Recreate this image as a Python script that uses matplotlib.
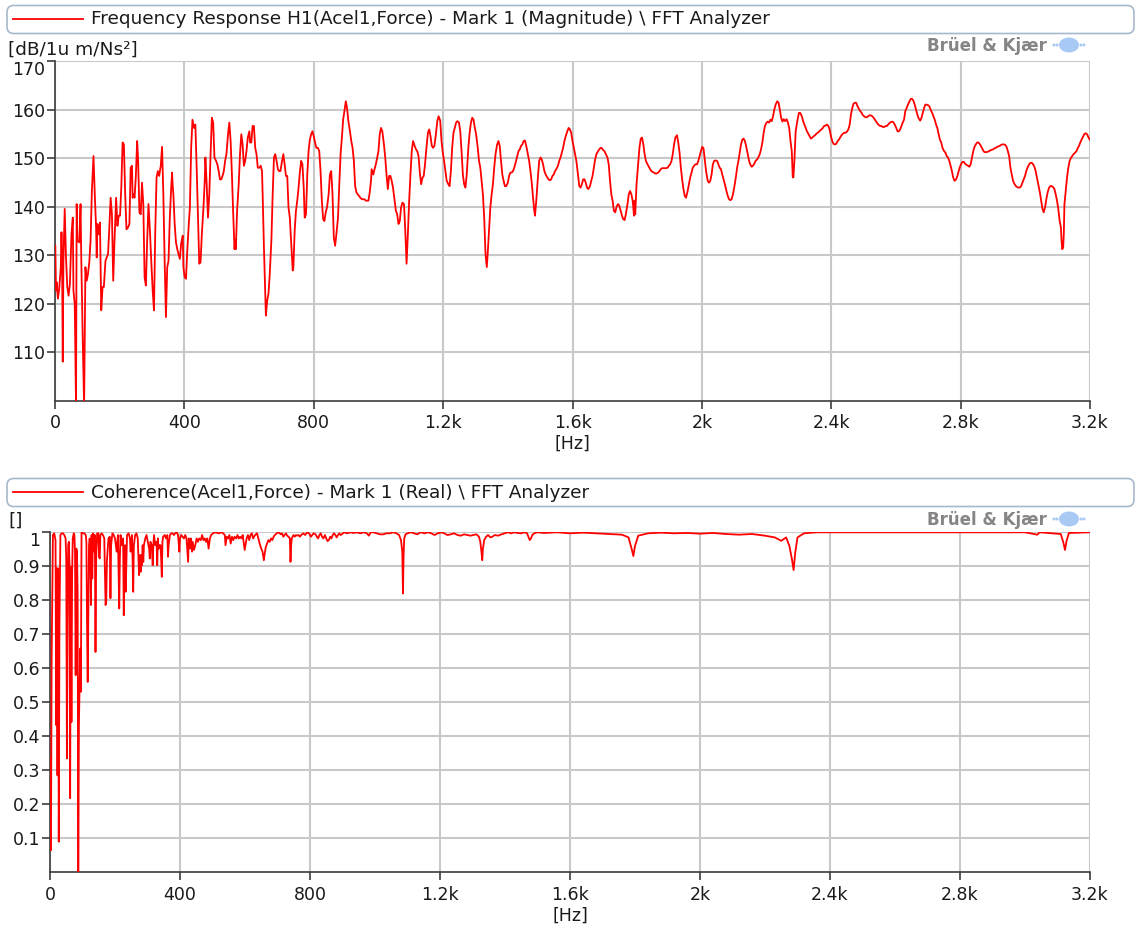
import numpy as np
import matplotlib
matplotlib.use("Agg")
import matplotlib.pyplot as plt
from matplotlib.patches import FancyBboxPatch, Ellipse
from matplotlib.lines import Line2D

# ---------------------------------------------------------------------------
# Frequency response H1(Acel1, Force) magnitude, (Hz, dB re 1u m/Ns^2)
# ---------------------------------------------------------------------------
h1_0_400 = [
    (1, 131.9), (3, 122.7), (5, 124.4), (9, 121.0), (13, 123.0), (18, 127.5), (20, 134.7),
    (22, 128.2), (24, 108.0), (26, 128.8), (30, 139.5), (34, 129.5), (38, 123.4), (42, 121.6),
    (46, 124.0), (51, 134.3), (55, 137.7), (57, 122.7), (61, 119.9), (65, 99.0), (67, 140.5),
    (69, 133.0), (75, 132.6), (79, 140.5), (81, 130.2), (86, 111.7), (90, 99.0), (94, 127.5),
    (98, 124.7), (102, 126.1), (106, 128.5), (110, 133.0), (114, 143.2), (119, 150.4),
    (123, 142.5), (127, 135.7), (129, 129.5), (131, 136.4), (135, 134.3), (139, 136.7),
    (143, 118.6), (147, 123.4), (151, 123.4), (156, 128.8), (160, 129.5), (164, 130.2),
    (168, 135.7), (172, 141.8), (176, 138.4), (180, 124.7), (184, 133.0), (189, 141.8),
    (193, 136.0), (197, 138.1), (201, 138.1), (205, 143.9), (209, 153.2), (213, 152.8),
    (217, 142.5), (221, 135.3), (226, 135.7), (230, 136.4), (234, 148.0), (238, 148.4),
    (240, 141.8), (242, 142.5), (246, 141.8), (250, 146.3), (254, 153.5), (257, 149.4),
    (261, 138.8), (265, 138.4), (269, 144.9), (273, 140.5), (277, 125.4), (281, 123.7),
    (285, 133.0), (289, 140.5), (294, 134.3), (298, 128.2), (302, 122.7), (306, 118.6),
    (310, 135.0), (314, 146.0), (318, 147.3), (322, 146.3), (327, 148.4), (331, 152.3),
    (335, 142.5), (339, 128.8), (343, 117.2), (347, 127.5), (351, 128.8), (355, 137.7),
    (359, 143.6), (362, 147.0), (364, 144.2), (366, 142.5), (370, 136.4), (374, 132.6),
    (378, 131.2), (382, 130.2), (386, 129.2), (390, 132.3), (395, 134.0), (397, 127.5),
]
h1_400_800 = [
    (401, 125.4), (405, 125.1), (409, 130.9), (413, 135.7), (417, 139.8), (421, 152.1),
    (425, 157.9), (430, 156.2), (434, 156.9), (438, 148.0), (442, 137.7), (446, 128.2),
    (450, 128.5), (454, 134.3), (459, 139.8), (463, 145.3), (465, 150.1), (469, 144.6),
    (473, 137.7), (477, 142.5), (481, 150.8), (485, 158.3), (489, 157.3), (493, 150.1),
    (498, 149.4), (502, 148.7), (506, 147.3), (510, 145.6), (514, 145.6), (518, 146.3),
    (522, 147.3), (526, 149.4), (530, 150.8), (535, 154.9), (539, 157.3), (543, 153.5),
    (547, 146.6), (551, 138.4), (555, 131.2), (557, 133.0), (559, 131.2), (563, 139.1),
    (568, 144.6), (572, 150.8), (576, 154.9), (580, 152.8), (584, 148.4), (588, 149.4),
    (592, 151.4), (596, 154.2), (601, 155.5), (603, 153.2), (607, 153.2), (611, 156.6),
    (615, 156.6), (619, 152.1), (623, 150.8), (627, 148.0), (632, 148.0), (636, 148.4),
    (640, 147.3), (642, 142.5), (646, 131.5), (650, 122.0), (652, 117.5), (656, 120.6),
    (660, 122.0), (664, 126.1), (669, 133.0), (673, 142.5), (677, 150.1), (681, 150.8),
    (685, 149.4), (689, 147.7), (693, 147.3), (697, 147.3), (702, 149.4), (706, 150.8),
    (710, 148.7), (714, 146.3), (718, 146.3), (722, 139.8), (726, 137.7), (730, 133.0),
    (735, 126.8), (737, 127.5), (741, 135.0), (745, 139.1), (749, 141.2), (753, 143.9),
    (757, 147.0), (761, 149.4), (765, 148.7), (769, 143.9), (772, 137.7), (776, 138.4),
    (780, 146.6), (784, 151.4), (788, 153.8), (792, 154.9), (796, 155.5),
]
h1_800_1200 = [
    (800, 154.5), (804, 153.2), (808, 152.1), (813, 152.1), (817, 151.4), (821, 147.3),
    (825, 141.2), (829, 137.4), (833, 137.0), (837, 138.8), (841, 139.8), (846, 142.5),
    (850, 146.6), (854, 147.3), (858, 142.5), (862, 133.6), (866, 131.9), (870, 134.3),
    (875, 137.7), (879, 144.6), (883, 150.8), (887, 154.2), (891, 158.0), (895, 159.7),
    (899, 161.7), (903, 160.3), (907, 157.6), (912, 155.5), (916, 153.5), (920, 152.1),
    (924, 149.4), (928, 144.2), (932, 142.9), (936, 142.5), (940, 142.2), (944, 141.8),
    (949, 141.5), (953, 141.5), (957, 141.5), (961, 141.2), (965, 141.2), (969, 141.2),
    (973, 142.9), (977, 145.3), (979, 147.7), (984, 146.6), (988, 147.7), (992, 148.7),
    (996, 150.1), (1000, 151.4), (1004, 154.9), (1008, 156.2), (1012, 155.5), (1017, 152.8),
    (1021, 150.1), (1025, 146.6), (1029, 143.6), (1033, 146.3), (1037, 146.3), (1041, 145.3),
    (1045, 143.9), (1050, 141.2), (1054, 139.1), (1058, 138.4), (1062, 136.4), (1066, 137.0),
    (1070, 139.8), (1074, 140.8), (1079, 140.5), (1083, 135.0), (1087, 128.2), (1091, 134.3),
    (1095, 141.2), (1099, 146.6), (1103, 151.4), (1107, 153.5), (1112, 152.5), (1116, 151.8),
    (1120, 151.4), (1124, 150.4), (1128, 147.0), (1132, 144.6), (1136, 145.9), (1140, 146.3),
    (1144, 148.7), (1149, 152.5), (1153, 155.2), (1157, 155.9), (1161, 154.5), (1165, 152.5),
    (1169, 152.1), (1173, 152.5), (1177, 154.5), (1182, 157.6), (1186, 158.6), (1191, 157.7),
    (1195, 153.5),
]
h1_1200_1600 = [
    (1199, 151.1), (1203, 149.4), (1207, 147.3), (1211, 145.3), (1216, 144.6), (1220, 144.2),
    (1224, 147.3), (1228, 152.1), (1232, 155.2), (1236, 156.2), (1240, 157.3), (1244, 157.6),
    (1249, 157.3), (1253, 155.5), (1257, 151.4), (1261, 146.6), (1265, 144.6), (1269, 143.9),
    (1273, 146.6), (1278, 152.1), (1282, 155.2), (1286, 157.3), (1290, 158.3), (1294, 157.9),
    (1298, 156.2), (1302, 154.9), (1307, 152.1), (1311, 149.4), (1315, 148.0), (1319, 145.3),
    (1323, 142.5), (1327, 137.7), (1331, 130.2), (1335, 127.5), (1338, 130.5), (1342, 135.0),
    (1346, 139.8), (1350, 142.5), (1354, 144.6), (1358, 148.0), (1362, 150.8), (1367, 152.8),
    (1371, 153.5), (1375, 152.5), (1379, 149.4), (1383, 146.6), (1387, 145.3), (1391, 144.2),
    (1395, 144.2), (1400, 144.9), (1404, 146.3), (1408, 147.0), (1412, 147.0), (1416, 147.3),
    (1420, 148.0), (1424, 149.0), (1428, 150.1), (1433, 151.4), (1437, 151.8), (1441, 152.5),
    (1445, 152.8), (1449, 153.5), (1453, 153.6), (1457, 152.5), (1462, 150.8), (1466, 149.4),
    (1470, 147.3), (1474, 144.9), (1478, 141.8), (1482, 139.1), (1484, 138.1), (1488, 141.2),
    (1493, 146.0), (1497, 149.4), (1501, 150.1), (1505, 149.7), (1509, 148.7), (1513, 147.3),
    (1517, 146.6), (1522, 146.0), (1526, 145.6), (1530, 145.4), (1534, 145.6), (1538, 146.3),
    (1542, 146.6), (1546, 147.3), (1550, 147.7), (1555, 148.4), (1559, 149.4), (1563, 150.1),
    (1567, 151.1), (1571, 152.1), (1575, 153.5), (1579, 154.5), (1584, 155.5), (1588, 156.2),
    (1592, 155.9), (1596, 155.2),
]
h1_1600_2000 = [
    (1600, 153.5), (1604, 152.1), (1608, 150.8), (1612, 149.4), (1617, 146.6), (1621, 144.2),
    (1625, 143.9), (1629, 144.6), (1633, 145.6), (1637, 145.6), (1641, 144.9), (1645, 143.9),
    (1649, 143.6), (1654, 144.2), (1658, 145.3), (1662, 146.3), (1666, 148.0), (1670, 149.7),
    (1674, 150.8), (1679, 151.4), (1683, 151.8), (1687, 152.1), (1691, 152.0), (1695, 151.6),
    (1699, 151.4), (1703, 150.8), (1708, 150.1), (1712, 148.7), (1716, 145.3), (1720, 142.5),
    (1724, 141.2), (1728, 139.1), (1732, 138.8), (1737, 140.1), (1741, 140.5), (1745, 140.1),
    (1749, 139.1), (1753, 138.1), (1757, 137.4), (1761, 137.2), (1765, 138.4), (1770, 140.5),
    (1774, 142.5), (1778, 143.2), (1782, 142.5), (1786, 141.2), (1788, 139.8), (1790, 138.1),
    (1792, 141.2), (1794, 138.4), (1798, 144.6), (1803, 148.7), (1807, 152.1), (1811, 154.0),
    (1815, 154.2), (1819, 152.8), (1823, 150.8), (1827, 149.4), (1832, 148.7), (1836, 148.2),
    (1840, 147.7), (1844, 147.3), (1848, 147.1), (1852, 147.0), (1856, 146.8), (1860, 146.8),
    (1865, 147.0), (1869, 147.3), (1873, 147.7), (1877, 147.9), (1881, 147.9), (1885, 147.9),
    (1889, 147.9), (1894, 148.0), (1898, 148.4), (1902, 148.7), (1906, 149.4), (1910, 150.8),
    (1914, 152.8), (1918, 154.2), (1923, 154.7), (1927, 153.2), (1931, 151.1), (1935, 148.0),
    (1939, 145.6), (1943, 143.6), (1947, 142.2), (1951, 141.8), (1956, 143.2), (1960, 144.6),
    (1964, 146.0), (1968, 147.0), (1972, 148.0), (1976, 148.4), (1980, 148.7), (1985, 148.7),
    (1989, 149.4), (1993, 150.4), (1997, 151.4),
]
h1_2000_2400 = [
    (2001, 152.3), (2005, 152.0), (2009, 149.7), (2013, 147.3), (2018, 145.3), (2022, 144.9),
    (2026, 145.3), (2030, 146.6), (2034, 148.7), (2038, 149.4), (2042, 149.5), (2047, 149.4),
    (2051, 148.7), (2055, 148.0), (2059, 147.7), (2063, 146.6), (2067, 145.6), (2071, 144.6),
    (2076, 143.2), (2080, 142.2), (2084, 141.5), (2088, 141.3), (2092, 141.5), (2096, 142.5),
    (2100, 143.9), (2105, 146.0), (2109, 148.0), (2113, 149.4), (2117, 151.1), (2121, 152.8),
    (2125, 153.8), (2129, 154.0), (2133, 153.5), (2138, 152.1), (2142, 150.8), (2146, 149.4),
    (2150, 148.6), (2154, 148.2), (2158, 148.4), (2162, 148.8), (2166, 149.4), (2171, 149.7),
    (2175, 150.2), (2179, 150.8), (2183, 151.8), (2187, 153.2), (2191, 155.2), (2195, 156.6),
    (2200, 157.3), (2204, 157.5), (2208, 157.3), (2212, 157.9), (2216, 157.6), (2220, 158.6),
    (2224, 160.0), (2228, 161.0), (2233, 161.7), (2237, 161.4), (2241, 160.0), (2245, 158.3),
    (2249, 157.5), (2253, 158.0), (2257, 157.6), (2262, 158.0), (2266, 157.3), (2270, 156.2),
    (2274, 153.5), (2278, 151.4), (2281, 146.0), (2283, 146.0), (2286, 149.4), (2290, 155.5),
    (2295, 157.6), (2300, 159.3), (2304, 159.3), (2309, 158.6), (2313, 157.6), (2317, 156.9),
    (2321, 156.2), (2325, 155.5), (2329, 155.0), (2333, 154.5), (2337, 154.0), (2341, 154.2),
    (2346, 154.5), (2350, 154.7), (2354, 155.0), (2358, 155.2), (2362, 155.4), (2366, 155.7),
    (2370, 155.9), (2374, 156.2), (2378, 156.6), (2383, 156.7), (2387, 156.9), (2391, 156.6),
    (2395, 155.9), (2399, 154.5),
]
h1_2400_2800 = [
    (2403, 153.5), (2407, 152.9), (2411, 152.8), (2415, 152.9), (2420, 153.5), (2424, 153.8),
    (2428, 154.3), (2432, 154.7), (2436, 155.0), (2440, 155.2), (2444, 155.2), (2448, 155.4),
    (2453, 155.9), (2457, 156.9), (2461, 159.0), (2465, 160.3), (2469, 161.2), (2473, 161.4),
    (2477, 161.4), (2481, 160.7), (2485, 160.2), (2489, 159.7), (2494, 159.3), (2498, 158.8),
    (2502, 158.6), (2506, 158.4), (2510, 158.4), (2514, 158.6), (2518, 158.8), (2522, 158.8),
    (2527, 158.6), (2531, 158.3), (2535, 157.9), (2539, 157.5), (2543, 157.1), (2547, 156.8),
    (2551, 156.6), (2555, 156.6), (2559, 156.4), (2564, 156.4), (2568, 156.6), (2572, 156.6),
    (2576, 156.9), (2580, 157.2), (2584, 157.4), (2588, 157.5), (2592, 157.4), (2596, 156.9),
    (2601, 156.2), (2605, 155.5), (2609, 155.5), (2613, 155.9), (2617, 156.6), (2621, 157.3),
    (2625, 157.9), (2629, 159.7), (2633, 160.3), (2637, 161.0), (2642, 161.7), (2646, 162.2),
    (2650, 162.2), (2654, 161.8), (2658, 161.0), (2662, 160.0), (2666, 159.0), (2670, 158.2),
    (2675, 157.7), (2679, 158.3), (2683, 159.3), (2687, 160.3), (2691, 161.0), (2695, 161.0),
    (2699, 160.9), (2703, 160.7), (2707, 160.0), (2712, 159.3), (2716, 158.6), (2720, 157.9),
    (2724, 156.9), (2728, 156.2), (2732, 154.9), (2736, 153.8), (2740, 153.2), (2744, 152.1),
    (2749, 151.4), (2753, 151.1), (2757, 150.4), (2761, 150.1), (2765, 149.4), (2769, 148.4),
    (2773, 147.3), (2777, 146.0), (2781, 145.3), (2786, 145.6), (2790, 146.3), (2794, 147.3),
    (2798, 148.2),
]
h1_2800_3200 = [
    (2802, 148.8), (2806, 149.2), (2810, 149.2), (2814, 148.8), (2818, 148.6), (2823, 148.4),
    (2827, 148.2), (2831, 148.7), (2835, 150.1), (2839, 151.4), (2843, 152.3), (2847, 152.8),
    (2851, 153.2), (2855, 153.2), (2860, 152.8), (2864, 152.3), (2868, 151.8), (2872, 151.3),
    (2876, 151.2), (2880, 151.2), (2884, 151.3), (2888, 151.4), (2892, 151.6), (2897, 151.7),
    (2901, 151.8), (2905, 152.0), (2909, 152.1), (2913, 152.3), (2917, 152.4), (2921, 152.5),
    (2925, 152.7), (2929, 152.8), (2934, 152.8), (2938, 152.7), (2942, 152.3), (2946, 151.4),
    (2950, 150.4), (2954, 148.0), (2958, 146.6), (2962, 145.3), (2966, 144.7), (2971, 144.2),
    (2975, 144.0), (2979, 143.9), (2983, 143.9), (2987, 144.2), (2991, 144.9), (2995, 145.6),
    (2999, 146.3), (3003, 147.3), (3008, 148.2), (3012, 148.7), (3016, 149.0), (3020, 149.0),
    (3024, 148.7), (3028, 148.2), (3032, 147.3), (3036, 146.0), (3040, 144.6), (3045, 142.9),
    (3049, 141.2), (3053, 139.5), (3057, 138.8), (3061, 139.8), (3065, 141.5), (3069, 142.9),
    (3073, 143.8), (3077, 144.2), (3082, 144.2), (3086, 144.0), (3090, 143.6), (3094, 142.5),
    (3098, 141.2), (3102, 139.5), (3106, 137.1), (3110, 135.7), (3112, 133.0), (3114, 131.2),
    (3117, 131.5), (3119, 134.3), (3121, 140.5), (3125, 143.2), (3129, 146.0), (3133, 148.0),
    (3137, 149.4), (3141, 150.0), (3145, 150.4), (3149, 150.8), (3154, 151.1), (3158, 151.4),
    (3162, 152.0), (3166, 152.5), (3170, 153.2), (3174, 153.8), (3178, 154.3), (3182, 154.9),
    (3186, 155.1), (3191, 154.9), (3195, 154.3), (3199, 153.8),
]

# ---------------------------------------------------------------------------
# Coherence(Acel1, Force), (Hz, coherence)
# ---------------------------------------------------------------------------
coh_0_200 = [
    (0, 0.335), (3, 0.065), (5, 0.63), (9, 0.992), (13, 0.997), (17, 0.977), (19, 0.433),
    (21, 0.894), (23, 0.285), (25, 0.894), (27, 0.09), (29, 0.727), (32, 0.992), (36, 0.997),
    (40, 0.997), (44, 0.992), (48, 0.982), (50, 0.923), (52, 0.335), (54, 0.727), (56, 0.962),
    (58, 0.972), (60, 0.903), (62, 0.218), (64, 0.899), (66, 0.442), (68, 0.874), (70, 0.982),
    (73, 0.997), (75, 0.992), (77, 0.943), (79, 0.58), (81, 0.952), (83, 0.943), (85, 0.825),
    (87, 0.0), (89, 0.433), (91, 0.55), (93, 0.658), (95, 0.531), (97, 1.0), (102, 0.997),
    (106, 0.997), (110, 0.992), (112, 0.972), (114, 0.727), (116, 0.56), (118, 0.776),
    (120, 0.962), (122, 0.982), (124, 0.962), (126, 0.786), (128, 0.992), (130, 0.864),
    (132, 0.997), (134, 0.992), (136, 0.943), (138, 0.992), (140, 0.648), (142, 0.923),
    (145, 0.997), (149, 0.997), (151, 0.928), (153, 0.923), (155, 0.992), (159, 0.997),
    (163, 0.992), (167, 0.982), (171, 0.786), (173, 0.796), (175, 0.913), (177, 0.943),
    (180, 0.982), (184, 0.987), (186, 0.806), (188, 0.962), (192, 0.997), (196, 0.992),
]
coh_200_600 = [
    (200, 0.982), (205, 0.943), (209, 0.992), (213, 0.776), (215, 0.923), (217, 0.992),
    (221, 0.962), (225, 0.982), (227, 0.756), (229, 0.903), (231, 0.962), (233, 0.825),
    (235, 0.903), (237, 0.992), (242, 0.997), (246, 0.982), (248, 0.943), (252, 0.992),
    (254, 0.923), (256, 0.825), (258, 0.962), (262, 0.992), (266, 0.997), (270, 0.982),
    (272, 0.923), (274, 0.874), (277, 0.933), (279, 0.884), (281, 0.933), (283, 0.903),
    (285, 0.962), (287, 0.913), (289, 0.962), (293, 0.982), (297, 0.992), (301, 0.972),
    (305, 0.952), (307, 0.923), (309, 0.972), (313, 0.962), (316, 0.903), (318, 0.962),
    (320, 0.992), (324, 0.962), (328, 0.972), (330, 0.903), (332, 0.982), (334, 0.952),
    (336, 0.962), (340, 0.962), (342, 0.923), (344, 0.869), (346, 0.972), (348, 0.987),
    (353, 0.992), (357, 0.982), (361, 0.992), (363, 0.928), (365, 0.962), (369, 0.992),
    (373, 0.997), (377, 0.997), (381, 0.992), (385, 0.997), (390, 1.0), (394, 0.992),
    (398, 0.943), (400, 0.982), (404, 0.992), (408, 0.987), (412, 0.982), (416, 0.992),
    (420, 0.982), (425, 0.913), (427, 0.982), (431, 0.952), (433, 0.982), (435, 0.962),
    (437, 0.943), (439, 0.972), (443, 0.948), (447, 0.962), (451, 0.982), (455, 0.972),
    (459, 0.982), (464, 0.977), (468, 0.992), (472, 0.977), (476, 0.982), (480, 0.972),
    (484, 0.982), (488, 0.952), (492, 0.982), (496, 0.992), (501, 0.997), (509, 1.0),
    (519, 0.997), (529, 1.0), (538, 0.992), (540, 0.962), (544, 0.987), (548, 0.982),
    (552, 0.992), (556, 0.967), (560, 0.987), (564, 0.977), (568, 0.987), (573, 0.982),
    (577, 0.992), (581, 0.982), (585, 0.987), (589, 0.982), (593, 0.992),
]
coh_600_1500 = [
    (599, 0.948), (605, 0.982), (609, 0.992), (613, 0.977), (617, 0.992), (621, 0.997),
    (625, 0.982), (631, 0.992), (637, 0.997), (641, 0.982), (645, 0.967), (650, 0.952),
    (654, 0.943), (658, 0.918), (660, 0.933), (664, 0.957), (668, 0.967), (672, 0.977),
    (676, 0.972), (680, 0.982), (684, 0.977), (688, 0.987), (692, 0.992), (698, 0.997),
    (704, 1.0), (710, 0.994), (714, 0.997), (718, 0.987), (722, 0.992), (726, 0.997),
    (730, 0.99), (734, 0.987), (738, 0.982), (740, 0.913), (742, 0.962), (744, 0.982),
    (749, 0.992), (753, 0.987), (757, 0.992), (761, 0.99), (765, 0.992), (769, 0.987),
    (773, 0.992), (779, 0.997), (785, 0.992), (791, 1.0), (797, 0.997), (803, 0.987),
    (807, 0.992), (811, 0.997), (817, 0.994), (821, 0.987), (825, 0.982), (829, 0.992),
    (833, 0.997), (837, 0.987), (841, 0.982), (846, 0.992), (850, 0.982), (854, 0.974),
    (858, 0.977), (862, 0.987), (866, 0.982), (870, 0.992), (874, 0.997), (878, 0.992),
    (882, 0.985), (886, 0.992), (890, 0.997), (894, 0.992), (898, 0.994), (904, 1.0),
    (914, 0.997), (924, 1.0), (934, 0.998), (944, 1.0), (955, 0.997), (965, 1.0),
    (975, 0.997), (981, 0.99), (987, 1.0), (995, 1.0), (1005, 0.997), (1015, 0.994),
    (1025, 0.994), (1035, 0.997), (1045, 0.997), (1056, 1.0), (1066, 0.997), (1074, 0.992),
    (1080, 0.977), (1084, 0.943), (1086, 0.82), (1088, 0.933), (1090, 0.982), (1094, 0.994),
    (1100, 0.997), (1110, 1.0), (1120, 0.997), (1130, 0.994), (1140, 1.0), (1153, 0.997),
    (1163, 1.0), (1173, 0.997), (1183, 0.992), (1193, 0.997), (1203, 1.0), (1213, 0.997),
    (1223, 0.992), (1233, 0.994), (1243, 0.997), (1254, 0.992), (1264, 0.99), (1274, 0.994),
    (1284, 0.992), (1294, 0.99), (1302, 0.992), (1312, 0.994), (1320, 0.987), (1324, 0.972),
    (1328, 0.938), (1330, 0.918), (1332, 0.952), (1336, 0.977), (1342, 0.987), (1348, 0.992),
    (1355, 0.985), (1361, 0.987), (1369, 0.992), (1379, 0.99), (1389, 0.994), (1399, 0.997),
    (1409, 1.0), (1419, 0.997), (1429, 1.0), (1439, 0.998), (1449, 0.997), (1460, 1.0),
    (1468, 0.997), (1472, 0.987), (1476, 0.977), (1480, 0.982), (1484, 0.992), (1490, 0.997),
    (1500, 1.0),
]
coh_1500_3200 = [
    (1520, 0.998), (1560, 1.0), (1600, 0.997), (1640, 0.999), (1680, 0.997), (1720, 0.995),
    (1760, 0.993), (1780, 0.985), (1790, 0.95), (1795, 0.93), (1800, 0.96), (1810, 0.99),
    (1840, 0.997), (1880, 0.999), (1920, 0.997), (1960, 0.998), (2000, 0.996), (2040, 0.998),
    (2080, 0.995), (2120, 0.993), (2160, 0.995), (2200, 0.99), (2230, 0.985), (2250, 0.975),
    (2265, 0.985), (2275, 0.96), (2283, 0.92), (2288, 0.889), (2293, 0.94), (2300, 0.985),
    (2320, 0.997), (2360, 1.0), (2500, 1.0), (2700, 1.0), (2900, 1.0), (3000, 1.0),
    (3038, 0.993), (3045, 1.0), (3110, 0.995), (3118, 0.97), (3123, 0.948), (3128, 0.975),
    (3135, 0.998), (3200, 1.0),
]

x_ticks = [0, 400, 800, 1200, 1600, 2000, 2400, 2800, 3200]
x_tick_labels = ["0", "400", "800", "1.2k", "1.6k", "2k", "2.4k", "2.8k", "3.2k"]
mag_ticks = [110, 120, 130, 140, 150, 160, 170]
mag_tick_labels = ["110", "120", "130", "140", "150", "160", "170"]
coh_ticks = [0.1, 0.2, 0.3, 0.4, 0.5, 0.6, 0.7, 0.8, 0.9, 1.0]
coh_tick_labels = ["0.1", "0.2", "0.3", "0.4", "0.5", "0.6", "0.7", "0.8", "0.9", "1"]

title_mag = "Frequency Response H1(Acel1,Force) - Mark 1 (Magnitude) \\ FFT Analyzer"
title_coh = "Coherence(Acel1,Force) - Mark 1 (Real) \\ FFT Analyzer"
unit_mag = "[dB/1u m/Ns²]"
unit_coh = "[]"
x_unit = "[Hz]"
brand = "Brüel & Kjær"

# ---------------------------------------------------------------------------
W, H = 1135, 930
RED = "#ff0000"
TXT = "#1a1a1a"
FONT = "DejaVu Sans"
FS = 12.5      # tick labels and axis unit
FS_HEAD = 13.3  # header and unit captions

plt.rcParams["font.family"] = [FONT]


def fx(x):
    return x / W


def fy(y):
    return 1 - y / H


def unpack(*segments):
    pts = [p for seg in segments for p in seg]
    return np.array([p[0] for p in pts]), np.array([p[1] for p in pts])


fig = plt.figure(figsize=(W / 100, H / 100), dpi=100)
fig.patch.set_facecolor("white")

ax1 = fig.add_axes([fx(55), fy(400.5), fx(1090) - fx(55), fy(61) - fy(400.5)])
ax2 = fig.add_axes([fx(50), fy(872.3), fx(1090) - fx(50), fy(532.3) - fy(872.3)])


def style_axes(ax, yticks, ylabels, ylim):
    ax.set_xlim(0, 3200)
    ax.set_ylim(*ylim)
    ax.set_xticks(x_ticks)
    ax.set_xticklabels(x_tick_labels)
    ax.set_yticks(yticks)
    ax.set_yticklabels(ylabels)
    ax.grid(True, color="#c8c8c8", lw=1.5)
    ax.set_axisbelow(True)
    for s in ("top", "right"):
        ax.spines[s].set_visible(False)
    for s in ("left", "bottom"):
        ax.spines[s].set_color("#3c3c3c")
        ax.spines[s].set_linewidth(1.2)
    ax.tick_params(length=6, width=1.2, color="#3c3c3c", labelsize=FS, labelcolor=TXT)
    ax.tick_params(axis="y", pad=1)
    ax.tick_params(axis="x", pad=4)
    ax.set_xlabel(x_unit, fontsize=FS, color=TXT, labelpad=2)
    # topmost label sits below its tick so it stays inside the frame
    ax.get_yticklabels()[-1].set_va("top")


f1, m1 = unpack(h1_0_400, h1_400_800, h1_800_1200, h1_1200_1600,
                h1_1600_2000, h1_2000_2400, h1_2400_2800, h1_2800_3200)
f2, c2 = unpack(coh_0_200, coh_200_600, coh_600_1500, coh_1500_3200)

ax1.plot(f1, m1, color=RED, lw=1.3, zorder=3)
ax2.plot(f2, c2, color=RED, lw=1.3, zorder=3)

style_axes(ax1, mag_ticks, mag_tick_labels, (100, 170))
style_axes(ax2, coh_ticks, coh_tick_labels, (0, 1))


def header(y_top, y_bot, text):
    box = FancyBboxPatch((fx(7), fy(y_bot)), fx(1134) - fx(7), fy(y_top) - fy(y_bot),
                         boxstyle="round,pad=0,rounding_size=0.006",
                         transform=fig.transFigure, facecolor="white",
                         edgecolor="#a7b8cc", lw=1.2, mutation_aspect=W / H)
    fig.patches.append(box)
    yc = (y_top + y_bot) / 2
    fig.lines.append(Line2D([fx(13), fx(83)], [fy(yc), fy(yc)], color=RED, lw=1.3,
                            transform=fig.transFigure))
    fig.text(fx(91), fy(yc), text, fontsize=FS_HEAD, color=TXT, va="center", ha="left")


def unit(y, text):
    fig.text(fx(8), fy(y), text, fontsize=FS_HEAD, color=TXT, va="center", ha="left")


def logo(yc):
    fig.text(fx(1047), fy(yc), brand, fontsize=12, fontweight="bold",
             color="#858585", va="center", ha="right")
    fig.patches.append(Ellipse((fx(1069), fy(yc - 1)), 20 / W, 15 / H,
                               transform=fig.transFigure, facecolor="#a9c9f5",
                               edgecolor="none"))
    for dx in (-15, -12, 12, 15):
        fig.patches.append(Ellipse((fx(1069 + dx), fy(yc - 1)), 3 / W, 3 / H,
                                   transform=fig.transFigure, facecolor="#a9c9f5",
                                   edgecolor="none"))


header(5.5, 33.5, title_mag)
header(478.5, 506.5, title_coh)
unit(49.5, unit_mag)
unit(521, unit_coh)
logo(46)
logo(520)

fig.savefig("out.png", dpi=100, facecolor="white")
